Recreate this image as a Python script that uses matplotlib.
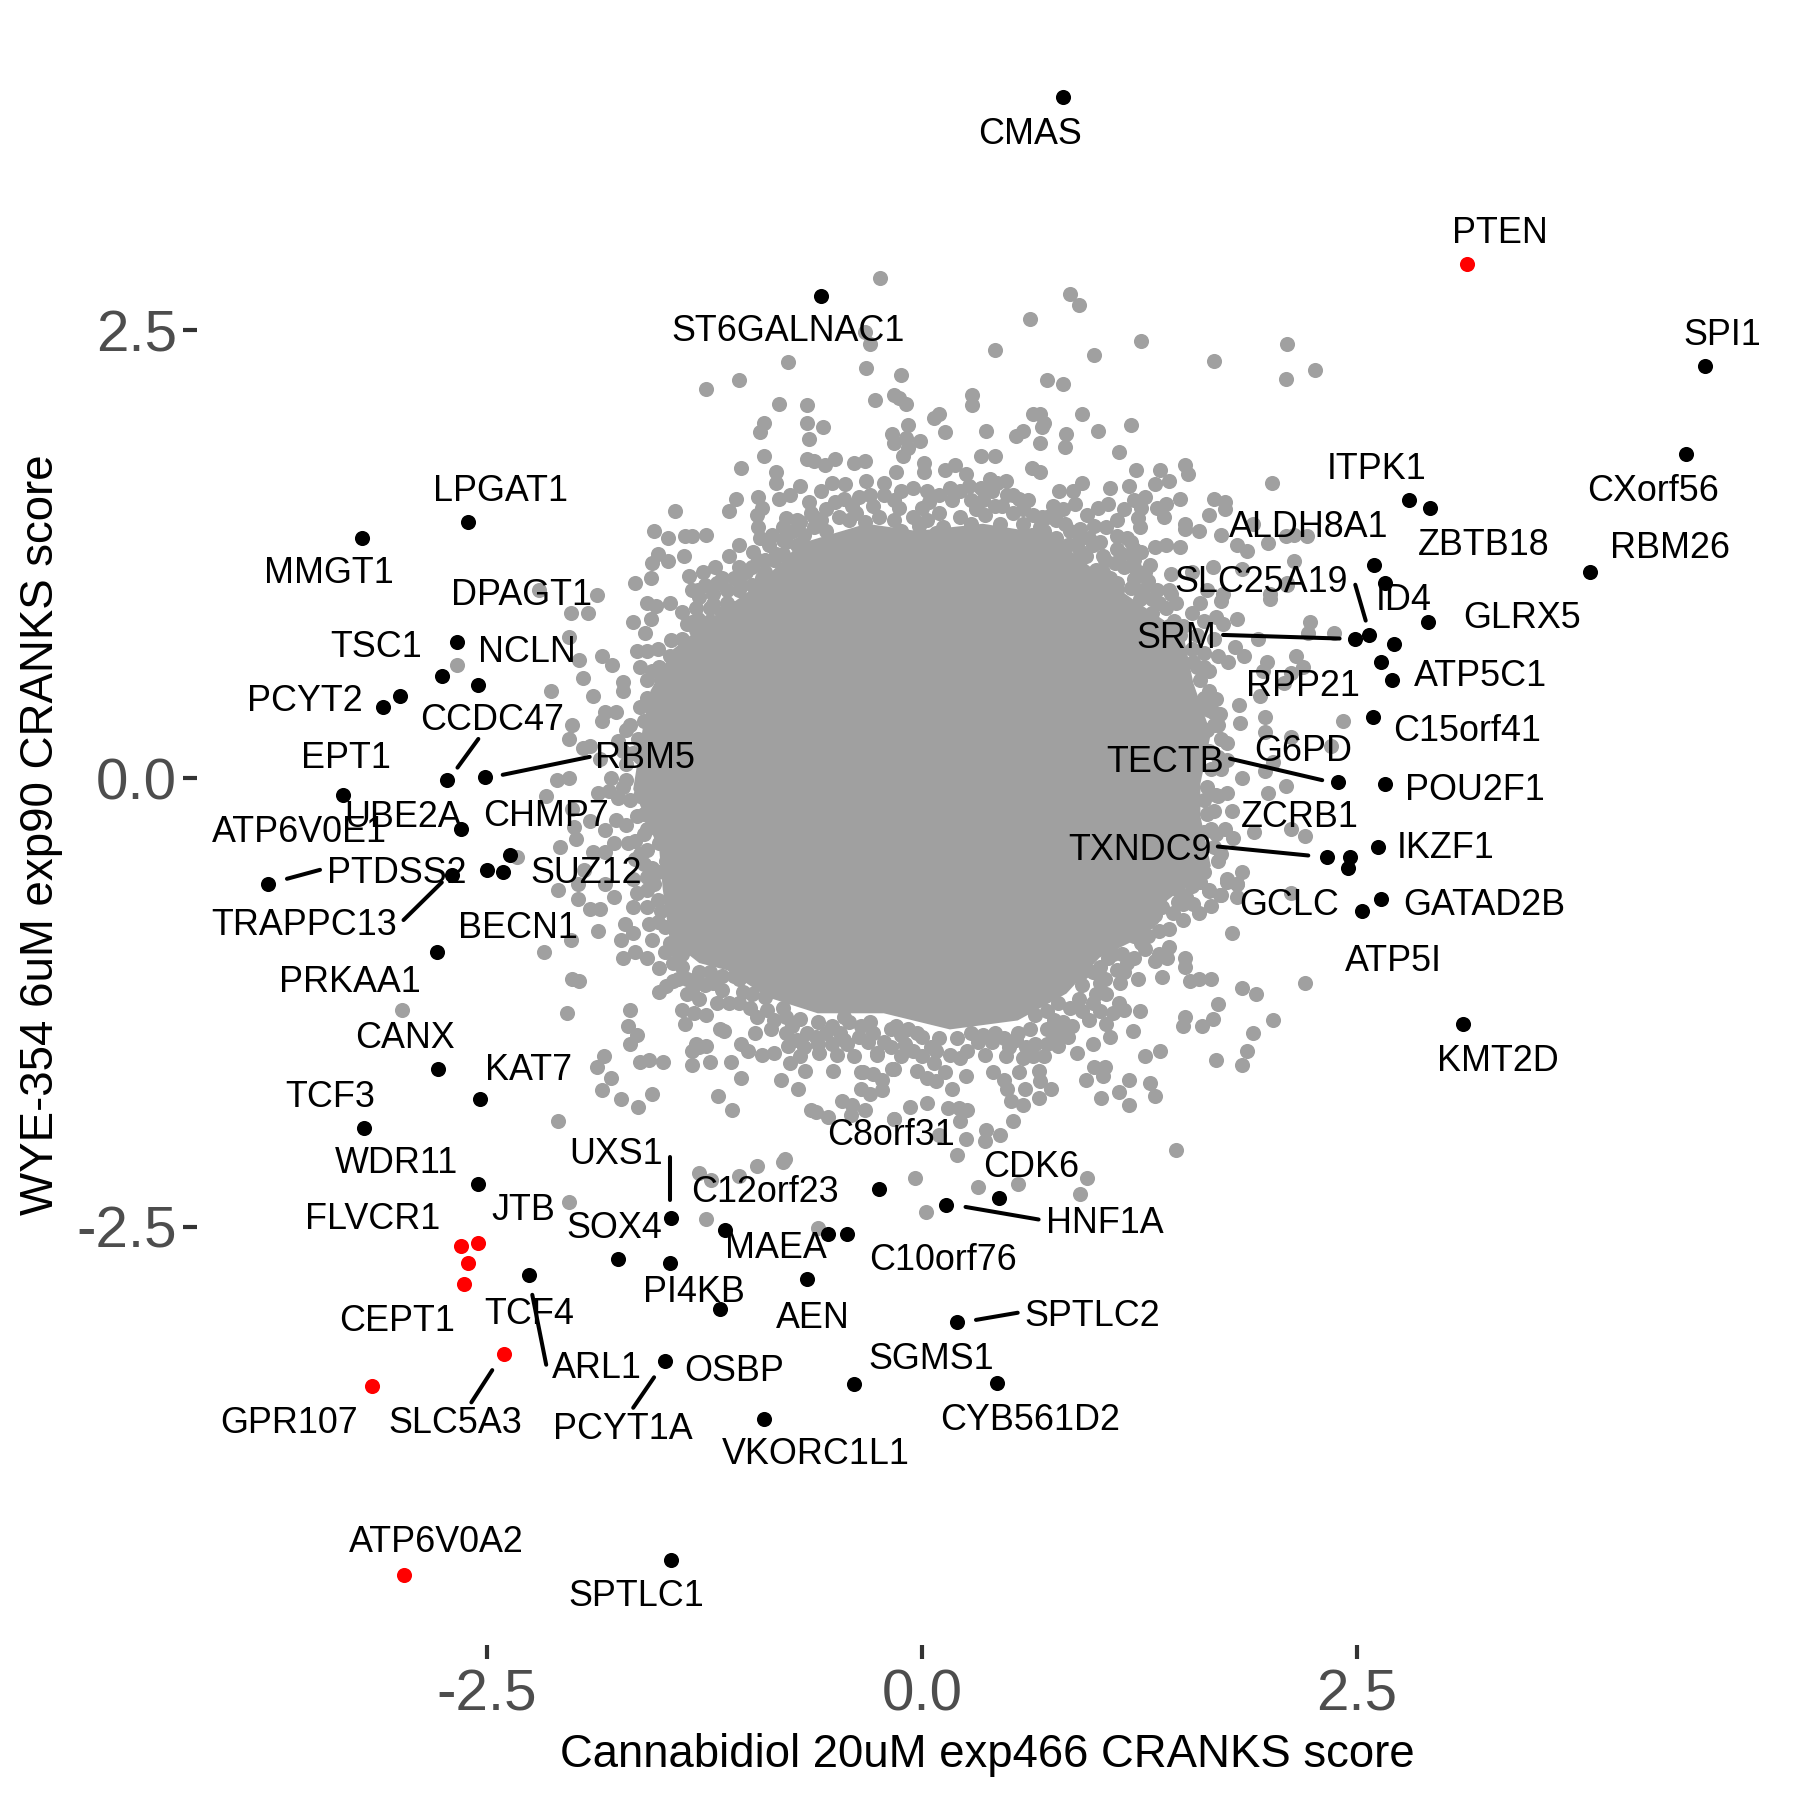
import numpy as np
import matplotlib
matplotlib.use('Agg')
import matplotlib.pyplot as plt

plt.rcParams['font.family'] = ['Liberation Sans', 'DejaVu Sans']

# 1) Values

# solid middle of the cloud, too dense to pick single points
core_outline = [(-0.03, 1.38), (0.35, 1.42), (0.74, 1.36), (1.08, 1.09), (1.21, 1.00), (1.50, 0.81),
                (1.56, 0.53), (1.66, 0.25), (1.60, -0.03), (1.60, -0.21), (1.66, -0.49), (1.41, -0.68),
                (1.27, -0.88), (1.02, -1.00), (0.83, -1.20), (0.55, -1.35), (0.16, -1.40), (-0.22, -1.31),
                (-0.60, -1.31), (-0.89, -1.22), (-1.12, -1.07), (-1.28, -1.03), (-1.45, -0.90), (-1.49, -0.62),
                (-1.51, -0.40), (-1.66, -0.06), (-1.60, 0.31), (-1.56, 0.49), (-1.43, 0.72), (-1.20, 0.90),
                (-0.93, 1.09), (-0.70, 1.31), (-0.32, 1.42)]

gray_top_left = [(-0.24, 2.79), (-0.30, 2.42), (-0.33, 2.49), (-0.32, 2.29), (-0.12, 2.25), (-0.77, 2.32),
                 (-1.05, 2.22), (-1.24, 2.17), (-0.82, 2.09), (-0.66, 2.08), (-0.27, 2.11), (-0.16, 2.14),
                 (-0.13, 2.12), (-0.09, 2.09), (-0.66, 1.98), (-0.57, 1.96), (-0.91, 1.98), (-0.93, 1.93),
                 (-0.65, 1.89), (-0.08, 1.97), (-0.17, 1.92), (-0.16, 1.87), (-0.09, 1.90), (-0.01, 1.88),
                 (-0.08, 1.84), (-0.11, 1.80), (-0.91, 1.80), (-1.04, 1.73), (-0.66, 1.78), (-0.62, 1.77),
                 (-0.56, 1.75), (-0.50, 1.78), (-0.39, 1.76), (-0.33, 1.77), (-0.84, 1.71), (-0.84, 1.65),
                 (-0.70, 1.63), (-0.15, 1.71), (0.01, 1.76), (0.10, 2.03), (0.07, 2.01), (0.13, 1.93),
                 (-1.07, 1.56), (-1.11, 1.49), (-0.94, 1.57), (-1.42, 1.49), (-1.54, 1.38), (-1.46, 1.34),
                 (-1.36, 1.35), (-1.32, 1.35), (-1.24, 1.36), (-1.05, 1.30), (-1.11, 1.24), (-1.37, 1.24),
                 (-1.52, 1.25), (-1.46, 1.21), (-1.55, 1.20), (-1.56, 1.12), (-1.65, 1.09), (-0.52, 1.65),
                 (-0.44, 1.64), (-0.58, 1.60), (-0.32, 1.66), (-0.22, 1.65), (-0.82, 1.56), (-0.76, 1.58),
                 (-0.65, 1.54), (-0.64, 1.48), (-0.92, 1.51), (-0.95, 1.47), (-0.78, 1.45), (-0.70, 1.43),
                 (-0.94, 1.40), (-0.93, 1.34), (-0.86, 1.36), (-0.97, 1.26), (-1.19, 1.18), (-1.26, 1.15),
                 (-1.34, 1.13), (-1.08, 1.12), (-1.01, 1.15), (-1.29, 1.05), (-1.18, 1.09)]

gray_top_right = [(0.85, 2.70), (0.90, 2.64), (0.62, 2.56), (1.26, 2.44), (0.99, 2.36), (0.42, 2.39),
                  (1.68, 2.33), (2.10, 2.42), (2.26, 2.28), (2.09, 2.23), (0.72, 2.22), (0.81, 2.20),
                  (0.29, 2.14), (0.29, 2.08), (0.64, 2.03), (0.68, 2.03), (0.70, 1.98), (0.69, 1.96),
                  (0.92, 2.03), (1.20, 1.97), (1.01, 1.94), (0.37, 1.94), (0.58, 1.94), (0.54, 1.91),
                  (0.83, 1.92), (0.68, 1.87), (0.82, 1.85), (1.13, 1.82), (0.34, 1.80), (0.42, 1.80),
                  (0.63, 1.73), (0.68, 1.71), (1.23, 1.72), (1.37, 1.72), (1.51, 1.75), (1.53, 1.70),
                  (1.42, 1.66), (2.01, 1.65), (0.92, 1.65), (1.19, 1.63), (1.08, 1.62), (1.34, 1.64),
                  (0.79, 1.60), (0.87, 1.60), (0.01, 1.71), (0.19, 1.75), (0.25, 1.70), (0.13, 1.72),
                  (0.39, 1.67), (0.48, 1.66), (0.34, 1.62), (0.43, 1.65), (1.28, 1.57), (1.26, 1.51),
                  (1.48, 1.56), (1.40, 1.53), (1.35, 1.51), (1.39, 1.46), (1.68, 1.56), (1.74, 1.54),
                  (1.65, 1.47), (1.74, 1.50), (1.51, 1.42), (1.51, 1.39), (1.59, 1.38), (1.72, 1.36),
                  (1.90, 1.42), (1.81, 1.30), (1.87, 1.27), (1.99, 1.31), (2.09, 1.35), (2.14, 1.36),
                  (2.21, 1.35), (2.14, 1.21), (1.67, 1.18), (1.84, 1.17), (1.31, 1.19), (1.43, 1.14),
                  (1.55, 1.15), (1.34, 1.29), (1.40, 1.30), (1.48, 1.29), (1.07, 1.53), (1.01, 1.51),
                  (0.88, 1.53), (0.81, 1.50), (0.75, 1.52), (0.69, 1.46), (0.77, 1.44), (0.61, 1.55),
                  (0.56, 1.56), (0.49, 1.58), (0.35, 1.55), (0.04, 1.54), (-0.16, 1.55), (-0.13, 1.51),
                  (0.00, 1.51), (-0.02, 1.41), (0.08, 1.37), (0.91, 1.39), (0.99, 1.41), (1.06, 1.40),
                  (1.12, 1.35), (1.25, 1.40), (1.22, 1.28), (1.22, 1.22), (1.11, 1.20), (0.94, 1.24),
                  (1.12, 1.09), (1.22, 1.11), (1.27, 1.05), (1.43, 1.03), (1.64, 1.05), (1.73, 1.03),
                  (2.00, 1.03), (2.10, 1.09)]

gray_left = [(-1.87, 1.02), (-2.02, 0.92), (-1.92, 0.92), (-2.20, 1.05), (-2.03, 0.79), (-1.97, 0.66),
             (-1.84, 0.68), (-1.78, 0.63), (-1.95, 0.56), (-1.72, 0.54), (-1.72, 0.49), (-2.13, 0.49),
             (-1.89, 0.46), (-1.58, 0.55), (-1.66, 0.87), (-1.45, 0.98), (-1.58, 0.98), (-1.53, 0.96),
             (-1.56, 0.89), (-1.59, 0.81), (-1.28, 1.01), (-1.32, 0.87), (-1.29, 0.89), (-1.35, 0.86),
             (-1.30, 0.83), (-1.44, 0.77), (-1.38, 0.78), (-1.33, 0.73), (-1.64, 0.71), (-1.58, 0.71),
             (-1.52, 0.72), (-1.45, 0.68), (-1.36, 0.67), (-1.24, 0.71), (-1.51, 0.62), (-1.30, 0.57),
             (-1.82, 0.37), (-1.76, 0.37), (-1.84, 0.32), (-2.01, 0.30), (-1.70, 0.27), (-2.03, 0.22),
             (-1.95, 0.17), (-1.91, 0.18), (-1.75, 0.21), (-1.63, 0.22), (-1.60, 0.32), (-1.85, 0.11),
             (-2.10, -0.01), (-2.03, 0.00), (-1.79, 0.00), (-1.70, -0.01), (-2.16, -0.10), (-1.86, -0.08),
             (-1.80, -0.07), (-1.75, -0.11), (-2.01, -0.17), (-1.91, -0.24), (-2.00, -0.27), (-1.99, -0.34),
             (-1.82, -0.29), (-1.76, -0.23), (-1.70, -0.26), (-1.64, -0.21), (-1.55, -0.23), (-1.60, -0.31),
             (-2.08, -0.38), (-1.77, -0.36), (-1.69, -0.36), (-1.51, -0.36), (-2.33, -0.44), (-1.89, -0.41),
             (-1.82, -0.41), (-1.62, -0.42), (-1.98, -0.59), (-2.09, -0.62), (-1.82, -0.59), (-1.66, -0.56),
             (-1.54, -0.59), (-1.98, -0.67), (-1.77, -0.66), (-1.64, -0.64), (-1.94, -0.51), (-1.47, -0.46),
             (-2.67, 0.63), (-2.99, -1.29)]

gray_bottom_left = [(-1.91, -0.73), (-1.85, -0.73), (-1.66, -0.72), (-1.86, -0.85), (-2.02, -0.90), (-2.17, -0.97),
                    (-1.71, -0.81), (-1.66, -0.86), (-1.73, -0.90), (-1.57, -0.81), (-1.48, -0.83), (-1.65, -0.97),
                    (-1.72, -1.00), (-1.58, -1.00), (-1.51, -1.06), (-1.48, -0.97), (-1.43, -1.03), (-2.01, -1.12),
                    (-1.97, -1.13), (-1.51, -1.19), (-1.43, -1.13), (-1.47, -1.16), (-1.35, -1.20), (-1.28, -1.23),
                    (-1.20, -1.14), (-1.11, -1.25), (-1.03, -1.19), (-0.99, -1.28), (-0.89, -1.29), (-0.80, -1.28),
                    (-2.04, -1.31), (-1.68, -1.29), (-1.69, -1.38), (-1.64, -1.43), (-1.68, -1.48), (-1.38, -1.29),
                    (-1.31, -1.31), (-1.24, -1.32), (-1.36, -1.37), (-1.16, -1.40), (-1.14, -1.41), (-1.04, -1.48),
                    (-0.96, -1.42), (-1.00, -1.52), (-0.92, -1.54), (-0.85, -1.53), (-0.87, -1.40), (-0.78, -1.42),
                    (-0.77, -1.49), (-1.30, -1.48), (-1.24, -1.49), (-1.32, -1.52), (-1.28, -1.50), (-1.32, -1.60),
                    (-1.22, -1.58), (-1.10, -1.58), (-1.04, -1.67), (-1.49, -1.58), (-1.57, -1.57), (-1.62, -1.58),
                    (-1.83, -1.55), (-1.87, -1.61), (-1.79, -1.67), (-1.84, -1.74), (-1.73, -1.79), (-1.63, -1.83),
                    (-1.55, -1.76), (-1.17, -1.77), (-1.09, -1.85), (-2.09, -1.91), (-0.81, -1.68), (-0.71, -1.73),
                    (-0.76, -1.59), (-0.70, -1.55), (-0.67, -1.63), (-0.64, -1.85), (-0.61, -1.86), (-0.54, -1.89),
                    (-0.46, -1.80), (-0.40, -1.82), (-0.41, -1.88), (-0.33, -1.85), (-0.16, -1.90), (-0.35, -1.64),
                    (-0.28, -1.65), (-0.23, -1.68), (-0.35, -1.73), (-0.30, -1.76), (-0.23, -1.74), (-0.51, -1.63),
                    (-0.59, -1.53), (-0.49, -1.54), (-0.39, -1.55), (-0.43, -1.48), (-0.61, -1.44), (-0.31, -1.47),
                    (-0.26, -1.53), (-0.17, -1.62), (-0.47, -1.42), (-1.28, -2.20), (-1.21, -2.24), (-1.05, -2.22),
                    (-0.95, -2.16), (-0.80, -2.14), (-0.79, -2.12), (-2.03, -2.36), (-1.24, -2.46), (-0.60, -2.51)]

gray_bottom_right = [(-0.26, -1.54), (-0.16, -1.62), (-0.12, -1.55), (-0.34, -1.64), (-0.03, -1.63), (0.03, -1.67),
                     (0.08, -1.69), (0.13, -1.64), (0.07, -1.59), (0.00, -1.55), (0.16, -1.54), (0.25, -1.66),
                     (0.17, -1.73), (-0.07, -1.83), (0.03, -1.81), (-0.16, -1.90), (0.15, -1.84), (0.21, -1.84),
                     (0.26, -1.85), (0.22, -1.91), (0.10, -1.99), (0.25, -2.01), (0.37, -1.96), (0.36, -2.02),
                     (0.45, -1.99), (0.52, -1.91), (0.20, -2.10), (-0.04, -2.23), (0.32, -2.28), (0.55, -2.26),
                     (0.95, -2.23), (0.91, -2.32), (0.02, -2.42), (1.46, -2.07), (0.41, -1.64), (0.47, -1.68),
                     (0.49, -1.73), (0.56, -1.64), (0.59, -1.73), (0.51, -1.80), (0.58, -1.82), (0.67, -1.78),
                     (0.74, -1.73), (0.68, -1.69), (0.67, -1.63), (0.54, -1.46), (0.48, -1.55), (0.36, -1.54),
                     (0.64, -1.55), (0.75, -1.42), (0.78, -1.49), (0.89, -1.53), (0.84, -1.44), (0.98, -1.48),
                     (1.08, -1.44), (1.06, -1.37), (1.10, -1.31), (1.13, -1.25), (1.16, -1.29), (0.96, -1.35),
                     (0.81, -1.36), (0.90, -1.23), (1.00, -1.20), (1.14, -1.14), (1.05, -1.12), (1.25, -1.30),
                     (1.21, -1.41), (1.24, -1.12), (1.18, -1.03), (1.07, -1.00), (1.34, -1.02), (1.36, -0.98),
                     (1.42, -0.94), (1.41, -1.00), (1.38, -1.11), (1.51, -1.00), (1.51, -1.05), (1.54, -1.13),
                     (1.59, -1.12), (1.66, -1.12), (1.78, -0.86), (1.84, -1.17), (1.92, -1.20), (2.20, -1.14),
                     (1.70, -1.26), (1.51, -1.33), (1.50, -1.38), (1.61, -1.38), (1.67, -1.34), (2.02, -1.35),
                     (1.90, -1.42), (1.87, -1.52), (1.69, -1.57), (1.84, -1.60), (1.37, -1.52), (1.28, -1.55),
                     (0.99, -1.61), (1.05, -1.61), (0.94, -1.68), (1.04, -1.66), (1.19, -1.68), (1.31, -1.70),
                     (1.34, -1.77), (1.13, -1.75), (1.03, -1.78), (1.19, -1.82), (1.50, -0.79), (1.59, -0.75),
                     (1.56, -0.70), (1.66, -0.71), (1.72, -0.65), (1.65, -0.63), (1.60, -0.58), (1.81, -0.59),
                     (1.75, -0.58), (1.81, -0.66), (2.12, -0.64), (1.42, -0.84), (1.26, -0.92), (1.47, -0.69),
                     (1.47, -0.62)]

gray_right = [(2.00, 1.00), (1.72, 0.99), (2.10, 1.08), (1.81, 0.89), (2.23, 0.87), (2.22, 0.81),
              (2.37, 0.81), (1.69, 0.90), (1.73, 0.86), (1.93, 0.78), (1.80, 0.73), (1.85, 0.68),
              (1.76, 0.65), (1.98, 0.65), (2.15, 0.68), (2.19, 0.62), (2.12, 0.59), (1.96, 0.60),
              (1.65, 0.60), (2.08, 0.53), (1.94, 0.46), (1.65, 0.49), (1.69, 0.44), (1.71, 0.36),
              (1.67, 0.37), (1.82, 0.41), (1.83, 0.31), (1.97, 0.34), (1.97, 0.26), (2.42, 0.32),
              (1.75, 0.20), (1.64, 0.27), (2.12, 0.23), (2.35, 0.18), (2.02, 0.09), (1.97, 0.04),
              (1.84, 0.00), (1.99, -0.08), (2.09, -0.04), (1.75, -0.08), (1.69, -0.09), (1.78, -0.18),
              (1.91, -0.30), (2.12, -0.28), (2.20, -0.32), (1.79, -0.33), (1.69, -0.31), (1.64, -0.20),
              (1.70, -0.46), (1.50, -0.48), (1.84, -0.52), (1.75, -0.56), (1.81, -0.59), (1.65, -0.62),
              (1.71, -0.65), (1.62, 0.40)]

# merged ring between the solid middle and the loose points
gray_ring_top = [(-0.80, 1.25), (-0.72, 1.30), (-0.85, 1.22), (-0.62, 1.40), (-0.55, 1.38), (-0.48, 1.46),
                 (-0.55, 1.50), (-0.40, 1.52), (-0.42, 1.44), (-0.33, 1.43), (-0.28, 1.52), (-0.25, 1.46),
                 (-0.16, 1.44), (-0.12, 1.38), (-0.05, 1.46), (0.03, 1.44), (0.10, 1.48), (0.17, 1.55),
                 (0.12, 1.40), (0.22, 1.46), (0.28, 1.55), (0.28, 1.42), (0.36, 1.47), (0.42, 1.52),
                 (0.45, 1.42), (0.52, 1.48), (0.58, 1.42), (0.63, 1.36), (0.70, 1.38), (0.77, 1.34),
                 (0.84, 1.30), (0.91, 1.27), (0.98, 1.30), (1.04, 1.24), (0.86, 1.20), (1.00, 1.16),
                 (1.08, 1.12), (1.16, 1.18), (1.20, 1.06), (1.30, 1.10), (1.32, 1.00), (1.40, 0.95),
                 (1.46, 0.98), (1.55, 0.92), (1.60, 0.98), (1.62, 0.88), (1.58, 0.80), (1.68, 0.78),
                 (1.62, 0.70), (1.70, 0.68), (1.56, 0.65), (-0.30, 1.58), (-0.22, 1.58), (-0.12, 1.60),
                 (-0.05, 1.62), (0.03, 1.60), (0.10, 1.58), (0.16, 1.62), (0.22, 1.60), (0.27, 1.63),
                 (0.31, 1.50), (0.40, 1.60), (0.46, 1.52), (0.52, 1.58), (0.58, 1.50), (0.64, 1.47),
                 (0.68, 1.40), (0.72, 1.46), (0.82, 1.42), (0.85, 1.38), (0.90, 1.33), (0.96, 1.34),
                 (1.02, 1.32), (1.05, 1.22), (1.15, 1.25), (1.18, 1.34), (1.26, 1.26), (1.20, 1.32),
                 (1.24, 1.45), (1.22, 1.55), (1.12, 1.44), (1.16, 1.50), (0.95, 1.47), (1.28, 1.15),
                 (1.22, 1.18), (1.12, 1.28), (1.35, 1.05), (1.42, 1.05), (1.36, 0.98), (1.45, 0.88),
                 (1.50, 0.85), (1.55, 0.72), (1.58, 0.62), (1.62, 0.62), (-1.32, 1.05), (-1.25, 1.08),
                 (-1.15, 1.12), (-1.05, 1.10), (-1.05, 1.18), (-0.98, 1.18), (-0.92, 1.12), (-0.90, 1.22),
                 (-0.88, 1.30), (-0.80, 1.33), (-0.74, 1.38), (-0.68, 1.36), (-0.80, 1.40), (-0.72, 1.44),
                 (-0.62, 1.46), (-0.58, 1.44), (-0.50, 1.54), (-0.45, 1.56), (-0.36, 1.57), (-0.38, 1.48),
                 (-1.20, 0.97), (-1.30, 0.95), (-1.38, 0.93), (-1.15, 0.92), (-1.08, 0.95), (-1.25, 0.85),
                 (-1.28, 0.78), (-1.22, 0.88), (-1.18, 0.82), (-1.38, 0.70), (-1.42, 0.62), (-1.48, 0.58),
                 (-1.33, 0.62), (-1.46, 0.50), (-1.55, 0.60), (-1.62, 0.62), (1.04, 1.15), (1.12, 1.05),
                 (1.25, 1.00), (1.32, 0.92), (1.42, 0.85), (1.48, 0.80)]
gray_ring_right = [(1.60, 0.55), (1.62, 0.45), (1.58, 0.38), (1.68, 0.30), (1.72, 0.22), (1.70, 0.12),
                   (1.65, 0.15), (1.75, 0.10), (1.66, 0.05), (1.64, -0.05), (1.62, -0.12), (1.68, -0.18),
                   (1.62, -0.30), (1.68, -0.38), (1.60, -0.42), (1.72, -0.42), (1.62, -0.52), (1.55, -0.60),
                   (1.50, -0.70), (1.70, -0.10), (1.66, -0.28), (1.74, -0.28), (1.72, 0.05), (1.70, 0.30),
                   (1.65, 0.38), (1.52, -0.66), (1.44, -0.75)]
gray_ring_bottom = [(1.32, -0.78), (1.38, -0.72), (1.22, -0.88), (1.28, -0.95), (1.15, -0.98), (1.12, -1.07),
                    (0.98, -1.08), (0.92, -1.15), (1.02, -1.14), (0.85, -1.28), (0.72, -1.30), (0.72, -1.40),
                    (0.62, -1.40), (0.65, -1.48), (0.55, -1.42), (0.47, -1.45), (0.40, -1.47), (0.32, -1.47),
                    (0.26, -1.52), (0.20, -1.45), (0.10, -1.45), (0.05, -1.50), (-0.03, -1.42), (-0.10, -1.48),
                    (-0.18, -1.40), (-0.22, -1.47), (-0.35, -1.38), (-0.42, -1.36), (-0.52, -1.38), (-0.60, -1.36),
                    (-0.70, -1.34), (-0.75, -1.38), (-0.66, -1.42), (-0.05, -1.52), (0.08, -1.52), (0.22, -1.56),
                    (0.28, -1.42), (0.35, -1.43), (0.42, -1.42), (0.50, -1.50), (0.60, -1.50), (0.58, -1.56),
                    (0.70, -1.55), (0.72, -1.48), (0.80, -1.42), (0.76, -1.35), (0.86, -1.38), (0.92, -1.30),
                    (0.98, -1.25), (1.06, -1.20), (1.02, -1.30), (1.16, -1.08), (1.22, -1.00), (1.30, -0.88),
                    (1.36, -0.85), (1.30, -0.80), (-0.72, -1.46), (-0.68, -1.50), (-0.60, -1.48), (-0.52, -1.48),
                    (-0.55, -1.42), (-0.45, -1.46), (-0.36, -1.44), (-0.28, -1.42), (-0.18, -1.50), (-0.12, -1.43),
                    (-0.30, -1.36), (-0.15, -1.38), (-0.08, -1.40), (0.00, -1.44), (-0.45, -1.33), (0.65, -1.32),
                    (0.78, -1.25), (0.92, -1.08), (1.02, -1.05), (1.10, -0.98), (1.34, -0.76)]
gray_ring_left = [(-0.90, -1.22), (-0.98, -1.20), (-1.08, -1.10), (-1.15, -1.18), (-1.22, -1.08), (-1.30, -1.12),
                  (-1.38, -1.05), (-1.45, -0.92), (-1.55, -0.90), (-1.52, -0.80), (-1.58, -0.72), (-1.52, -0.68),
                  (-1.55, -0.50), (-1.58, -0.40), (-1.60, -0.48), (-1.65, -0.35), (-1.56, -0.15), (-1.68, -0.12),
                  (-1.70, 0.08), (-1.66, 0.14), (-1.62, 0.40), (-1.58, 0.45), (-1.50, 0.55), (-1.42, 0.58),
                  (-1.38, 0.55), (-1.26, 0.63), (-1.22, 0.78), (-1.15, 0.85), (-1.22, 0.95), (-1.12, 0.98),
                  (-1.05, 1.05), (-1.20, 1.03), (-1.12, 1.05), (-0.98, 1.08), (-0.90, 1.15), (-0.94, 1.22),
                  (-0.84, 1.25), (-0.78, 1.32), (-1.62, 0.12), (-1.68, 0.30), (-1.72, 0.15), (-1.72, -0.05),
                  (-1.62, -0.10), (-1.60, -0.20), (-1.58, -0.28), (-1.65, -0.45), (-1.58, -0.55), (-1.52, -0.52),
                  (-1.58, -0.62), (-1.50, -0.74), (-1.40, -1.12), (-1.32, -1.18), (-1.25, -1.15), (-1.18, -1.25),
                  (-1.05, -1.25), (-0.95, -1.33), (-0.85, -1.35), (-0.78, -1.33), (-1.35, -1.12), (-1.42, -0.95),
                  (-1.38, -0.98), (-1.28, -1.08), (-1.05, -1.12), (-1.15, -1.10)]

# highlighted genes, x / y scores
black_x = [0.81, -0.58, 4.50, 4.39, 3.84, 2.80, 2.92, 2.60, 2.66, 2.91, 2.57, 2.49, 2.71, 2.64, 2.70, 2.59,
           2.39, 2.66, 2.62, 2.33, 2.46, 2.45, 2.64, 2.53, 3.11,
           -2.61, -3.22, -2.67, -2.76, -2.55, -3.00, -3.10, -2.73, -2.51, -3.33, -2.65, -2.37, -2.41, -2.50,
           -2.70, -3.76, -2.79, -2.78, -2.54, -3.21, -2.55, -2.26, -1.44, -1.75, -1.44, -1.45, -1.13, -1.16,
           -0.66, -0.54, -0.43, -0.25, 0.14, 0.44, 0.20, 0.43, -0.39, -0.91, -1.48]
black_y = [3.80, 2.69, 2.30, 1.81, 1.15, 1.55, 1.51, 1.19, 1.09, 0.87, 0.80, 0.78, 0.75, 0.65, 0.55, 0.34,
           -0.02, -0.03, -0.38, -0.44, -0.44, -0.50, -0.67, -0.74, -1.37,
           1.43, 1.34, 0.76, 0.57, 0.52, 0.46, 0.40, -0.01, 0.01, -0.09, -0.28, -0.43, -0.52, -0.51,
           -0.54, -0.59, -0.97, -1.62, -1.79, -1.95, -2.26, -2.77, -4.36, -2.68, -2.45, -2.70, -2.52, -2.96,
           -2.79, -2.54, -2.54, -2.29, -2.38, -2.34, -3.03, -3.37, -3.38, -3.57, -3.25]

red_x = [3.13, -2.65, -2.55, -2.61, -2.63, -2.40, -3.16, -2.98]
red_y = [2.87, -2.61, -2.59, -2.70, -2.82, -3.21, -3.39, -4.44]

gene_names = ['CMAS', 'PTEN', 'ST6GALNAC1', 'SPI1', 'CXorf56', 'LPGAT1', 'ITPK1', 'ALDH8A1', 'ZBTB18', 'RBM26',
              'MMGT1', 'SLC25A19', 'DPAGT1', 'ID4', 'GLRX5', 'SRM', 'TSC1', 'NCLN', 'ATP5C1', 'RPP21',
              'PCYT2', 'CCDC47', 'C15orf41', 'G6PD', 'EPT1', 'RBM5', 'TECTB', 'POU2F1', 'CHMP7', 'UBE2A',
              'ZCRB1', 'ATP6V0E1', 'IKZF1', 'TXNDC9', 'PTDSS2', 'SUZ12', 'GATAD2B', 'GCLC', 'TRAPPC13', 'BECN1',
              'ATP5I', 'PRKAA1', 'CANX', 'KMT2D', 'KAT7', 'TCF3', 'C8orf31', 'UXS1', 'WDR11', 'CDK6',
              'C12orf23', 'JTB', 'FLVCR1', 'HNF1A', 'SOX4', 'MAEA', 'C10orf76', 'PI4KB', 'TCF4', 'AEN',
              'SPTLC2', 'CEPT1', 'SGMS1', 'ARL1', 'OSBP', 'CYB561D2', 'GPR107', 'SLC5A3', 'PCYT1A', 'VKORC1L1',
              'ATP6V0A2', 'SPTLC1']
label_x = [0.62, 3.32, -0.77, 4.60, 4.20, -2.42, 2.61, 2.22, 3.23, 4.30,
           -3.41, 1.95, -2.30, 2.77, 3.45, 1.46, -3.14, -2.27, 3.21, 2.19,
           -3.55, -2.47, 3.13, 2.19, -3.31, -1.59, 1.40, 3.18, -2.16, -2.98,
           2.17, -3.58, 3.01, 1.25, -3.02, -1.93, 3.23, 2.11, -3.55, -2.32,
           2.71, -3.29, -2.97, 3.31, -2.26, -3.40, -0.18, -1.76, -3.02, 0.63,
           -0.90, -2.29, -3.16, 1.05, -1.77, -0.84, 0.12, -1.31, -2.26, -0.63,
           0.98, -3.02, 0.05, -1.87, -1.08, 0.62, -3.64, -2.68, -1.72, -0.61,
           -2.79, -1.64]
label_y = [3.60, 3.05, 2.50, 2.48, 1.61, 1.61, 1.73, 1.41, 1.31, 1.29,
           1.15, 1.10, 1.03, 1.00, 0.90, 0.79, 0.74, 0.71, 0.58, 0.52,
           0.44, 0.33, 0.27, 0.16, 0.12, 0.12, 0.10, -0.06, -0.20, -0.21,
           -0.21, -0.29, -0.38, -0.39, -0.52, -0.52, -0.70, -0.70, -0.81, -0.83,
           -1.01, -1.13, -1.44, -1.57, -1.62, -1.77, -1.98, -2.09, -2.14, -2.16,
           -2.30, -2.40, -2.45, -2.47, -2.50, -2.61, -2.68, -2.86, -2.98, -3.00,
           -2.99, -3.02, -3.23, -3.28, -3.30, -3.57, -3.59, -3.59, -3.62, -3.76,
           -4.25, -4.55]

# repel segments, x0, y0, x1, y1
segments = [(2.49, 1.08, 2.55, 0.88), (1.73, 0.80, 2.40, 0.78), (1.77, 0.11, 2.30, -0.01),
            (1.70, -0.38, 2.22, -0.43), (-2.41, 0.02, -1.91, 0.12), (-2.67, 0.06, -2.55, 0.22),
            (-3.65, -0.56, -3.46, -0.51), (-2.98, -0.79, -2.76, -0.58), (-1.45, -2.11, -1.45, -2.35),
            (0.25, -2.39, 0.67, -2.46), (0.31, -3.02, 0.55, -2.98), (-2.24, -2.88, -2.16, -3.27),
            (-2.47, -3.30, -2.59, -3.48), (-1.54, -3.34, -1.66, -3.51)]

tick_vals = [-2.5, 0.0, 2.5]
tick_labels = ['-2.5', '0.0', '2.5']

# 2) Plot
fig = plt.figure(figsize=(18, 18), dpi=100)
ax = fig.add_axes([197 / 1800, 155 / 1800, 1603 / 1800, 1645 / 1800])

gray_points = np.array(gray_top_left + gray_top_right + gray_left + gray_bottom_left + gray_bottom_right + gray_right
                       + gray_ring_top + gray_ring_right + gray_ring_bottom + gray_ring_left)
core = np.array(core_outline)

ax.fill(core[:, 0], core[:, 1], color='#A0A0A0', lw=0, zorder=1)
ax.scatter(gray_points[:, 0], gray_points[:, 1], s=118, c='#A0A0A0', linewidths=0, zorder=1)
ax.scatter(black_x, black_y, s=118, c='black', linewidths=0, zorder=2)
ax.scatter(red_x, red_y, s=118, c='#FF0000', linewidths=0, zorder=2)

for x0, y0, x1, y1 in segments:
    ax.plot([x0, x1], [y0, y1], color='black', lw=2.9, solid_capstyle='round', zorder=3)

for name, lx, ly in zip(gene_names, label_x, label_y):
    ax.annotate(name, (lx, ly), xytext=(0, 1.6), textcoords='offset points', fontsize=25.8, color='black',
                ha='center', va='center_baseline', zorder=4)

ax.set_xlim(-4.167, 5.046)
ax.set_ylim(-4.833, 4.341)
ax.set_xticks(tick_vals)
ax.set_xticklabels(tick_labels)
ax.set_yticks(tick_vals)
ax.set_yticklabels(tick_labels, va='center_baseline')
ax.tick_params(axis='both', length=10, width=3.0, color='#333333', labelcolor='#4D4D4D', labelsize=42)
ax.tick_params(axis='x', pad=7)
ax.tick_params(axis='y', pad=4.5)
for side in ax.spines:
    ax.spines[side].set_visible(False)

fig.text(987 / 1800, 45 / 1800, 'Cannabidiol 20uM exp466 CRANKS score', fontsize=32.8, ha='center', va='center')
fig.text(41 / 1800, 1 - 835 / 1800, 'WYE-354 6uM exp90 CRANKS score', fontsize=32.85, rotation=90,
         ha='center', va='center')

plt.savefig('out.png', dpi=100)
